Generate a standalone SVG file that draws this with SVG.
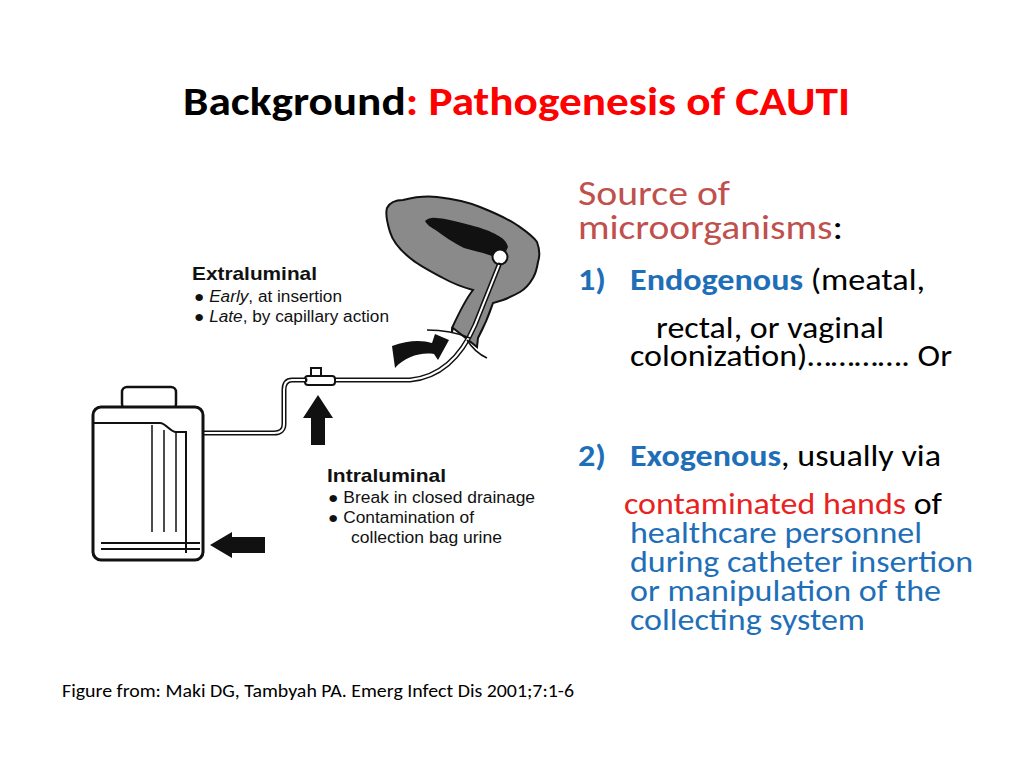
<svg xmlns="http://www.w3.org/2000/svg" width="1024" height="768" viewBox="0 0 1024 768">
<style>
.c{font-family:Calibri,Carlito,"Liberation Sans",sans-serif}
.a{font-family:"Liberation Sans",Arial,sans-serif;fill:#111}
.r{font-size:30px;fill:#000}
.b{fill:#1f6fb8}
.rd{fill:#e8231f}
.tube{fill:none;stroke:#111;stroke-width:5;stroke-linecap:round}
.tubei{fill:none;stroke:#fff;stroke-width:2}
</style>
<rect width="1024" height="768" fill="#fff"/>
<text class="c" x="183" y="115" font-size="40" font-weight="bold" textLength="667" lengthAdjust="spacingAndGlyphs"><tspan fill="#000">Background</tspan><tspan fill="#ff0000">: Pathogenesis of CAUTI</tspan></text>
<g id="illustration">
<path d="M387 208 C390 202 396 200 403 200 C415 197 428 196 437 197 C455 199 468 202 480 207 C495 213 508 219 517 225 C527 232 533 236 537 242 C540 250 540 256 538 262 C537 268 536 273 533 278 C529 285 525 289 520 292 C513 296 508 298 503 300 L493 303 C490 312 485 325 478 338 L477 347 L472 343 L453 328 L452 332 L452 328 C458 315 465 300 473 290 C462 287 452 283 443 278 C430 271 418 265 410 258 C400 250 393 242 390 232 C387 222 385 214 387 208 Z" fill="#8a8a8a" stroke="#111" stroke-width="2"/>
<path d="M425 221 C430 216 437 218 445 219 C455 221 462 223 470 225 C482 228 490 231 497 235 C503 238 507 242 508 247 L502 260 C497 258 490 255 483 253 C476 251 470 250 464 248 C452 242 444 236 437 231 C432 228 427 225 425 221 Z" fill="#111"/>
<circle cx="500" cy="257" r="7.5" fill="#fff" stroke="#111" stroke-width="2"/>
<path class="tube" d="M499 265 L475 325 C462 355 442 377 410 380 L335 380"/>
<path class="tubei" d="M499 265 L475 325 C462 355 442 377 410 380 L335 380"/>
<path d="M427 330 C445 330 458 333 470 338" fill="none" stroke="#111" stroke-width="1.5"/>
<path d="M467 340 C472 348 478 354 487 358" fill="none" stroke="#111" stroke-width="1.5"/>
<rect x="305" y="376" width="30" height="9" rx="3" fill="#fff" stroke="#111" stroke-width="2"/>
<rect x="311" y="368" width="10" height="8" fill="#fff" stroke="#111" stroke-width="2"/>
<path class="tube" d="M305 380 L292 380 C286 380 284 384 284 390 L284 424 C284 430 280 433 274 433 L203 433"/>
<path class="tubei" d="M305 380 L292 380 C286 380 284 384 284 390 L284 424 C284 430 280 433 274 433 L203 433"/>
<rect x="122" y="387" width="54" height="22" rx="5" fill="#fff" stroke="#111" stroke-width="2.5"/>
<rect x="93" y="407" width="110" height="153" rx="8" fill="#fff" stroke="#111" stroke-width="3"/>
<path d="M93 423 L160 423 C166 423 170 432 176 432 L186 432 L186 553" fill="none" stroke="#111" stroke-width="2"/>
<path d="M152 425 V532 M164 430 V532 M176 432 V532" stroke="#111" stroke-width="1.5"/>
<path d="M101 543 H200 M101 549 H200" stroke="#111" stroke-width="2"/>
<path d="M265 537 L232 537 L232 532 L210 545 L232 558 L232 553 L265 553 Z" fill="#111"/>
<path d="M311 445 L311 418 L303 418 L318 395 L333 418 L325 418 L325 445 Z" fill="#111"/>
<path d="M392 346 C408 340 422 340 432 343 L435 334 L449 340 L438 360 L434 354 C420 352 405 357 395 368 Z" fill="#111"/>
<text class="a" x="192" y="280" font-size="19" font-weight="bold" textLength="125" lengthAdjust="spacingAndGlyphs">Extraluminal</text>
<text class="a" x="194" y="302" font-size="16" textLength="148" lengthAdjust="spacingAndGlyphs">● <tspan font-style="italic">Early</tspan>, at insertion</text>
<text class="a" x="194" y="322" font-size="16" textLength="195" lengthAdjust="spacingAndGlyphs">● <tspan font-style="italic">Late</tspan>, by capillary action</text>
<text class="a" x="327" y="482" font-size="19" font-weight="bold" textLength="119" lengthAdjust="spacingAndGlyphs">Intraluminal</text>
<text class="a" x="328" y="503" font-size="16" textLength="207" lengthAdjust="spacingAndGlyphs">● Break in closed drainage</text>
<text class="a" x="328" y="523" font-size="16" textLength="146" lengthAdjust="spacingAndGlyphs">● Contamination of</text>
<text class="a" x="351" y="543" font-size="16" textLength="151" lengthAdjust="spacingAndGlyphs">collection bag urine</text>
</g>
<g id="text" class="c">
<text x="578" y="205" font-size="35" fill="#c0504d" textLength="152" lengthAdjust="spacingAndGlyphs">Source of</text>
<text x="578" y="239" font-size="35" fill="#c0504d" textLength="265" lengthAdjust="spacingAndGlyphs">microorganisms<tspan fill="#000">:</tspan></text>
<text class="r" x="578" y="290" textLength="28" lengthAdjust="spacingAndGlyphs"><tspan class="b" font-weight="bold">1)</tspan></text>
<text class="r" x="630" y="290" textLength="295" lengthAdjust="spacingAndGlyphs"><tspan class="b" font-weight="bold">Endogenous</tspan> (meatal,</text>
<text class="r" x="656" y="338" textLength="228" lengthAdjust="spacingAndGlyphs">rectal, or vaginal</text>
<text class="r" x="630" y="366" textLength="322" lengthAdjust="spacingAndGlyphs">colonization)…………. Or</text>
<text class="r" x="578" y="466" textLength="28" lengthAdjust="spacingAndGlyphs"><tspan class="b" font-weight="bold">2)</tspan></text>
<text class="r" x="630" y="466" textLength="311" lengthAdjust="spacingAndGlyphs"><tspan class="b" font-weight="bold">Exogenous</tspan>, usually via</text>
<text class="r" x="624" y="514" textLength="318" lengthAdjust="spacingAndGlyphs"><tspan class="rd">contaminated hands</tspan> of</text>
<text class="r b" x="630" y="543" textLength="292" lengthAdjust="spacingAndGlyphs">healthcare personnel</text>
<text class="r b" x="630" y="572" textLength="343" lengthAdjust="spacingAndGlyphs">during catheter insertion</text>
<text class="r b" x="630" y="601" textLength="311" lengthAdjust="spacingAndGlyphs">or manipulation of the</text>
<text class="r b" x="630" y="630" textLength="235" lengthAdjust="spacingAndGlyphs">collecting system</text>
<text x="62" y="697" font-size="18" fill="#000" textLength="512" lengthAdjust="spacingAndGlyphs">Figure from: Maki DG, Tambyah PA. Emerg Infect Dis 2001;7:1-6</text>
</g>
</svg>
